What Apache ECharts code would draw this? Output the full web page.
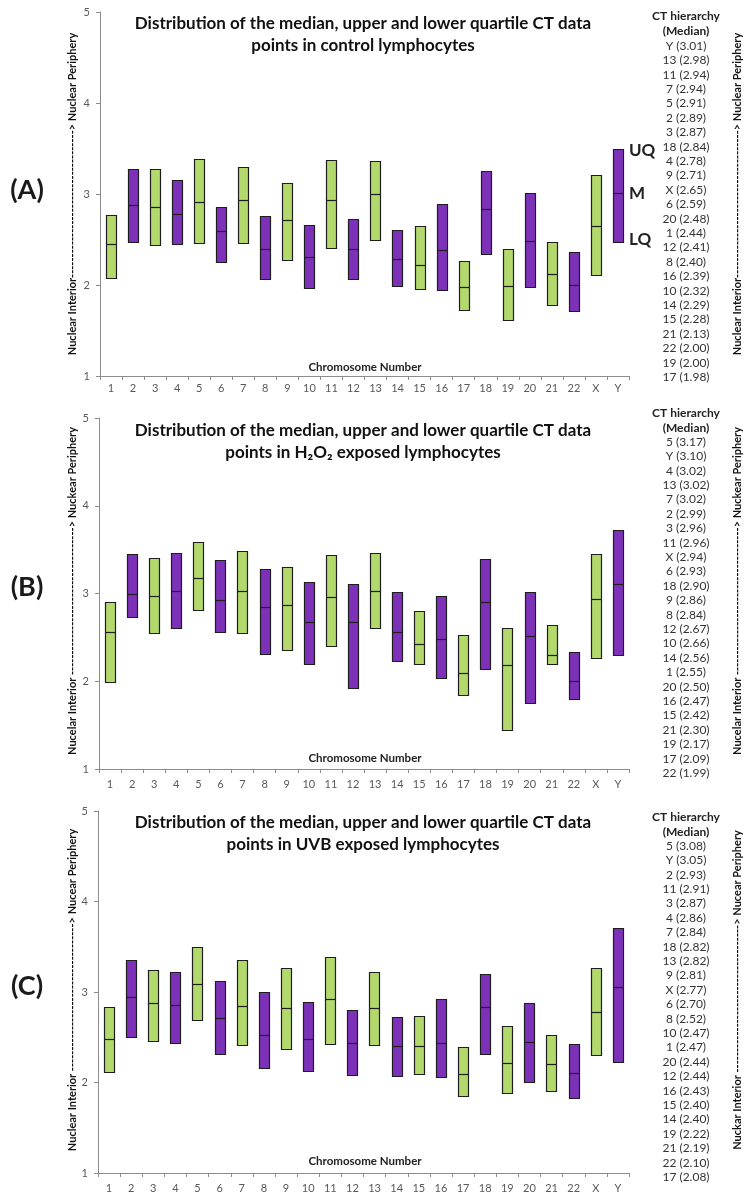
<!DOCTYPE html>
<html>
<head>
<meta charset="utf-8">
<script src="https://cdn.jsdelivr.net/npm/echarts@6/dist/echarts.min.js"></script>
<style>
html,body{margin:0;padding:0;background:#fff;}
#chart{width:754px;height:1200px;}
</style>
</head>
<body>
<div id="chart"></div>
<script>
// ---------------- DATA ----------------
const chromosomes = ['1','2','3','4','5','6','7','8','9','10','11','12','13','14','15','16','17','18','19','20','21','22','X','Y'];
const yTicks = [1, 2, 3, 4, 5];

// Panel A: control lymphocytes
const controlUQ  = [2.77,3.27,3.28,3.15,3.39,2.86,3.30,2.76,3.12,2.66,3.37,2.73,3.36,2.60,2.65,2.89,2.26,3.25,2.40,3.01,2.47,2.36,3.21,3.50];
const controlMed = [2.45,2.88,2.86,2.78,2.91,2.59,2.93,2.40,2.71,2.31,2.93,2.40,3.00,2.29,2.22,2.39,1.98,2.83,1.99,2.48,2.12,2.00,2.65,3.01];
const controlLQ  = [2.08,2.47,2.44,2.45,2.47,2.26,2.47,2.07,2.27,1.97,2.40,2.07,2.49,1.99,1.96,1.94,1.72,2.34,1.62,1.98,1.78,1.71,2.11,2.48];

// Panel B: H2O2 exposed lymphocytes
const h2o2UQ  = [2.90,3.45,3.40,3.46,3.59,3.38,3.48,3.28,3.30,3.13,3.44,3.11,3.46,3.02,2.80,2.97,2.53,3.39,2.61,3.02,2.64,2.33,3.45,3.72];
const h2o2Med = [2.56,2.99,2.97,3.03,3.18,2.93,3.03,2.85,2.87,2.67,2.96,2.67,3.03,2.56,2.42,2.48,2.09,2.90,2.18,2.51,2.30,2.00,2.94,3.11];
const h2o2LQ  = [1.99,2.73,2.54,2.60,2.81,2.56,2.55,2.31,2.35,2.19,2.40,1.93,2.60,2.23,2.20,2.03,1.85,2.14,1.45,1.76,2.20,1.80,2.26,2.30];

// Panel C: UVB exposed lymphocytes
const uvbUQ  = [2.83,3.35,3.24,3.22,3.50,3.12,3.35,3.00,3.26,2.89,3.39,2.80,3.22,2.72,2.73,2.92,2.39,3.20,2.62,2.88,2.53,2.42,3.27,3.71];
const uvbMed = [2.48,2.94,2.88,2.86,3.09,2.71,2.84,2.52,2.82,2.48,2.92,2.44,2.82,2.40,2.40,2.44,2.09,2.83,2.22,2.45,2.20,2.10,2.78,3.05];
const uvbLQ  = [2.11,2.50,2.46,2.44,2.69,2.31,2.41,2.16,2.36,2.13,2.43,2.08,2.41,2.07,2.09,2.06,1.85,2.32,1.88,2.01,1.91,1.82,2.31,2.23];

// CT hierarchy (median) lists
const hierarchyA = ['Y (3.01)','13 (2.98)','11 (2.94)','7 (2.94)','5 (2.91)','2 (2.89)','3 (2.87)','18 (2.84)','4 (2.78)','9 (2.71)','X (2.65)','6 (2.59)','20 (2.48)','1 (2.44)','12 (2.41)','8 (2.40)','16 (2.39)','10 (2.32)','14 (2.29)','15 (2.28)','21 (2.13)','22 (2.00)','19 (2.00)','17 (1.98)'];
const hierarchyB = ['5 (3.17)','Y (3.10)','4 (3.02)','13 (3.02)','7 (3.02)','2 (2.99)','3 (2.96)','11 (2.96)','X (2.94)','6 (2.93)','18 (2.90)','9 (2.86)','8 (2.84)','12 (2.67)','10 (2.66)','14 (2.56)','1 (2.55)','20 (2.50)','16 (2.47)','15 (2.42)','21 (2.30)','19 (2.17)','17 (2.09)','22 (1.99)'];
const hierarchyC = ['5 (3.08)','Y (3.05)','2 (2.93)','11 (2.91)','3 (2.87)','4 (2.86)','7 (2.84)','18 (2.82)','13 (2.82)','9 (2.81)','X (2.77)','6 (2.70)','8 (2.52)','10 (2.47)','1 (2.47)','20 (2.44)','12 (2.44)','16 (2.43)','15 (2.40)','14 (2.40)','19 (2.22)','21 (2.19)','22 (2.10)','17 (2.08)'];

const titlesLine1 = 'Distribution of the median, upper and lower quartile CT data';
const titlesLine2 = ['points in control lymphocytes', 'points in H\u2082O\u2082 exposed lymphocytes', 'points in UVB exposed lymphocytes'];
const panelLabels = ['(A)', '(B)', '(C)'];
const xAxisName = 'Chromosome Number';
const dashes = '-'.repeat(36);
const sideLeft  = ['Nuclear Interior' + dashes + '> Nuclear Periphery', 'Nucelar Interior ' + dashes + '> Nuckear Periphery', 'Nuclear Interior ' + dashes + '> Nucear Periphery'];
const sideRight = ['Nuclear Interior' + dashes + '> Nuclear Periphery', 'Nucelar Interior ' + dashes + '> Nuckear Periphery', 'Nuckar Interior ' + dashes + '> Nucear Periphery'];
const quartileLabels = ['UQ', 'M', 'LQ'];

// ---------------- STYLE / LAYOUT ----------------
const GREEN = '#b3d86b';
const PURPLE = '#7d31b8';
const EDGE = '#1e1e1e';
const FONT = 'Lato, "Open Sans", sans-serif';

const panels = [
  {uq: controlUQ, med: controlMed, lq: controlLQ, hier: hierarchyA, grid: {left: 100, top: 12, width: 529, height: 364}},
  {uq: h2o2UQ, med: h2o2Med, lq: h2o2LQ, hier: hierarchyB, grid: {left: 99, top: 418, width: 530, height: 351}},
  {uq: uvbUQ, med: uvbMed, lq: uvbLQ, hier: hierarchyC, grid: {left: 98, top: 811, width: 531, height: 362}}
];
const textPos = [
  {title: 24, axisName: 367, panel: 190, hierTop: 16, listTop: 46},
  {title: 431, axisName: 758, panel: 587, hierTop: 413, listTop: 442},
  {title: 823, axisName: 1161, panel: 986, hierTop: 817, listTop: 846}
];

function isPurple(name) {
  if (name === 'Y') return true;
  if (name === 'X') return false;
  return parseInt(name, 10) % 2 === 0;
}

function renderItem(params, api) {
  const idx = api.value(0);
  const lq = api.value(1), med = api.value(2), uq = api.value(3);
  const top = api.coord([idx, uq]);
  const bot = api.coord([idx, lq]);
  const mid = api.coord([idx, med]);
  const w = api.size([1, 0])[0] * 0.46;
  const fill = isPurple(chromosomes[idx]) ? PURPLE : GREEN;
  const x0 = Math.round(top[0] - w / 2) + 0.5;
  return {
    type: 'group',
    children: [
      {type: 'rect', shape: {x: x0, y: Math.round(top[1]) + 0.5, width: Math.round(w), height: Math.round(bot[1] - top[1])},
       style: {fill: fill, stroke: EDGE, lineWidth: 1.2}},
      {type: 'line', shape: {x1: x0, y1: Math.round(mid[1]) + 0.5, x2: x0 + Math.round(w), y2: Math.round(mid[1]) + 0.5},
       style: {stroke: EDGE, lineWidth: 1.2}}
    ]
  };
}

const grids = [], xAxes = [], yAxes = [], series = [], graphics = [];
panels.forEach((p, i) => {
  grids.push(Object.assign({containLabel: false}, p.grid));
  xAxes.push({
    type: 'category', gridIndex: i, data: chromosomes,
    axisLine: {lineStyle: {color: '#8c8c8c', width: 1}},
    axisTick: {show: true, alignWithLabel: false, length: 4, lineStyle: {color: '#8c8c8c'}},
    axisLabel: {color: '#595959', fontSize: 11, fontFamily: FONT, margin: i === 0 ? 7 : 10, interval: 0},
    splitLine: {show: false}
  });
  yAxes.push({
    type: 'value', gridIndex: i, min: yTicks[0], max: yTicks[yTicks.length - 1], interval: 1,
    axisLine: {show: true, lineStyle: {color: '#8c8c8c', width: 1}},
    axisTick: {show: true, length: 4, lineStyle: {color: '#8c8c8c'}},
    axisLabel: {color: '#595959', fontSize: 11, fontFamily: FONT, margin: 10},
    splitLine: {show: false}
  });
  series.push({
    type: 'custom', xAxisIndex: i, yAxisIndex: i,
    renderItem: renderItem,
    data: chromosomes.map((c, k) => [k, p.lq[k], p.med[k], p.uq[k]]),
    silent: true, animation: false
  });

  const t = textPos[i];
  // Title (two lines, first line centred at t.title)
  graphics.push({type: 'text', x: 363, y: t.title - 11, style: {text: titlesLine1 + '\n' + titlesLine2[i], font: 'bold 17px ' + FONT, fill: '#111', textAlign: 'center', textVerticalAlign: 'top', lineHeight: 22}, silent: true});
  // Panel label
  graphics.push({type: 'text', x: 27, y: t.panel, style: {text: panelLabels[i], font: 'bold 27px ' + FONT, fill: '#1a1a1a', textAlign: 'center', textVerticalAlign: 'middle'}, silent: true});
  // X axis name
  graphics.push({type: 'text', x: 365, y: t.axisName, style: {text: xAxisName, font: 'bold 11.5px ' + FONT, fill: '#222', textAlign: 'center', textVerticalAlign: 'middle'}, silent: true});
  // Hierarchy header
  graphics.push({type: 'text', x: 686, y: t.hierTop - 8, style: {text: 'CT hierarchy\n(Median)', font: 'bold 12px ' + FONT, fill: '#222', textAlign: 'center', textVerticalAlign: 'top', lineHeight: 15.5}, silent: true});
  // Hierarchy list
  graphics.push({type: 'text', x: 686, y: t.listTop - 7.2, style: {text: p.hier.join('\n'), font: '12px ' + FONT, fill: '#333', textAlign: 'center', textVerticalAlign: 'top', lineHeight: 14.4}, silent: true});
  // Side labels
  graphics.push({type: 'text', x: 72, y: t.panel + 4, rotation: Math.PI / 2, style: {text: sideLeft[i], font: 'bold 11px ' + FONT, fill: '#111', textAlign: 'center', textVerticalAlign: 'middle'}, silent: true});
  graphics.push({type: 'text', x: 737, y: t.panel + 4, rotation: Math.PI / 2, style: {text: sideRight[i], font: 'bold 11px ' + FONT, fill: '#111', textAlign: 'center', textVerticalAlign: 'middle'}, silent: true});
});

// UQ / M / LQ labels (panel A)
const qY = [151, 194, 240];
quartileLabels.forEach((q, k) => {
  graphics.push({type: 'text', x: 629, y: qY[k], style: {text: q, font: 'bold 17px ' + FONT, fill: '#222', textAlign: 'left', textVerticalAlign: 'middle'}, silent: true});
});

const chart = echarts.init(document.getElementById('chart'), null, {renderer: 'canvas'});
chart.setOption({
  backgroundColor: '#ffffff',
  animation: false,
  grid: grids,
  xAxis: xAxes,
  yAxis: yAxes,
  series: series,
  graphic: {elements: graphics}
});
</script>
</body>
</html>
